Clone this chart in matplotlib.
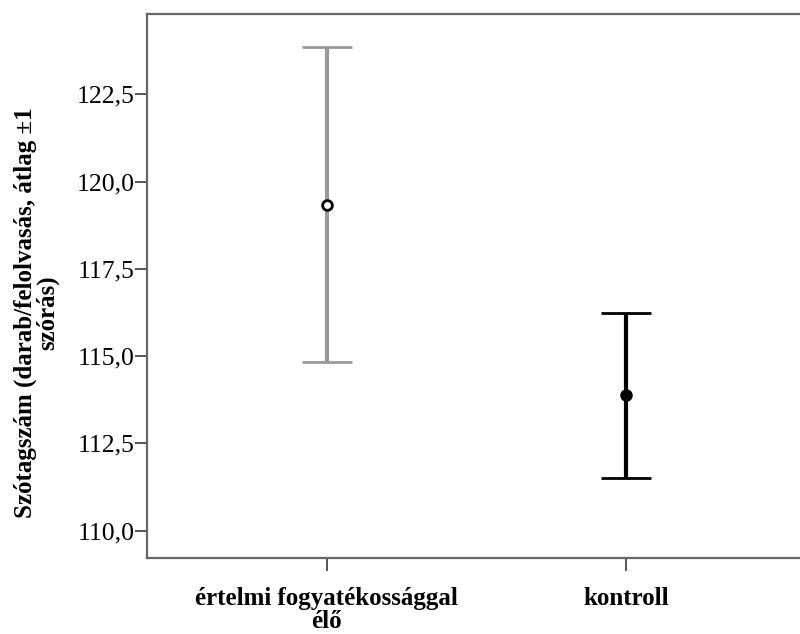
import matplotlib.pyplot as plt

groups = ['értelmi fogyatékossággal\nélő', 'kontroll']
means = [119.34, 113.88]
sds = [4.50, 2.36]
yticks = [110.0, 112.5, 115.0, 117.5, 120.0, 122.5]
ytick_labels = ['110,0', '112,5', '115,0', '117,5', '120,0', '122,5']

plt.rcParams['font.family'] = ['Liberation Serif', 'DejaVu Serif']

fig = plt.figure(figsize=(8, 6.34), dpi=100)
ax = fig.add_axes([0.184, 0.12, 0.816, 0.858])

colors = ['#999999', '#000000']
faces = ['white', 'black']
for i in range(len(groups)):
    ax.errorbar(i, means[i], yerr=sds[i], color=colors[i], elinewidth=3,
                capsize=18, capthick=3, marker='o', markersize=7,
                markerfacecolor=faces[i], markeredgecolor='black',
                markeredgewidth=2, linestyle='none')

ax.set_xlim(-0.6, 1.58)
ax.set_ylim(109.22, 124.8)
ax.set_xticks(range(len(groups)))
ax.set_xticklabels(groups, fontsize=18, fontweight='bold', linespacing=1.0)
ax.set_yticks(yticks)
ax.set_yticklabels(ytick_labels, fontsize=18.5)
ax.tick_params(axis='both', direction='out', length=9, width=1.4,
               color='#555555')
ax.tick_params(axis='y', pad=0)
ax.tick_params(axis='x', pad=12)

for side in ['left', 'bottom', 'top']:
    ax.spines[side].set_color('#666666')
    ax.spines[side].set_linewidth(1.6)
ax.spines['right'].set_visible(False)

ax.set_ylabel('Szótagszám (darab/felolvasás, átlag ±1\nszórás)',
              fontsize=18, fontweight='bold', linespacing=0.95)
ax.yaxis.set_label_coords(-0.135, 0.45)

fig.savefig('out.png', dpi=100)
